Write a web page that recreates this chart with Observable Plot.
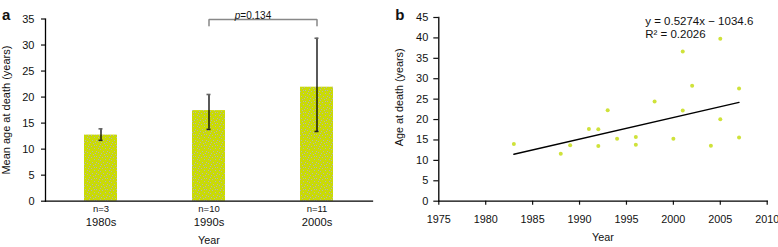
<!DOCTYPE html>
<html><head><meta charset="utf-8">
<script src="https://cdn.jsdelivr.net/npm/d3@7"></script>
<script src="https://cdn.jsdelivr.net/npm/@observablehq/plot@0.6"></script>
<style>
body{margin:0;background:#fff;}
#wrap{display:flex;width:778px;height:247px;}
#wrap svg{display:block;flex:none;}
</style></head><body><div id="wrap"></div>
<script>
// Panel a data
const decades = ["1980s", "1990s", "2000s"];
const nLabels = ["n=3", "n=10", "n=11"];
const meanAge = [12.7, 17.4, 21.9];
const errLow = [11.7, 13.8, 13.4];
const errHigh = [13.9, 20.5, 31.3];
const pLabel = "p=0.134";
const bracketTop = 34.9, bracketFoot = 33.7;
const yTicksA = [0, 5, 10, 15, 20, 25, 30, 35];

// Panel b data
const deathYear = [1983, 1988, 1989, 1991, 1992, 1992, 1993, 1994, 1996, 1996, 1998, 2000, 2001, 2001, 2002, 2004, 2005, 2005, 2007, 2007];
const deathAge  = [14.0, 11.6, 13.7, 17.7, 17.6, 13.5, 22.3, 15.3, 15.7, 13.8, 24.4, 15.3, 36.7, 22.2, 28.3, 13.6, 39.8, 20.1, 27.6, 15.6];
const fitYear = [1983, 2007];
const fitAge = [11.5, 24.2];
const eqLines = ["y = 0.5274x \u2212 1034.6", "R\u00b2 = 0.2026"];
const eqX = 1997, eqY = [44.0, 41.0];
const yTicksB = [0, 5, 10, 15, 20, 25, 30, 35, 40, 45];
const xTicksB = [1975, 1980, 1985, 1990, 1995, 2000, 2005, 2010];

const font = "'Liberation Sans', Arial, Helvetica, sans-serif";
const style = {fontFamily: font, fontSize: "11px", color: "#111", background: "#fff", overflow: "visible"};

const bars = decades.map((d, i) => ({decade: d, mean: meanAge[i], lo: errLow[i], hi: errHigh[i]}));
const bracket = [
  {x: decades[1], y: bracketFoot}, {x: decades[1], y: bracketTop},
  {x: decades[2], y: bracketTop}, {x: decades[2], y: bracketFoot}
];

const chartA = Plot.plot({
  width: 390, height: 247,
  marginLeft: 45, marginRight: 18, marginTop: 18.5, marginBottom: 46.3,
  style,
  x: {domain: decades, range: [46, 372], paddingInner: 0.69, paddingOuter: 0.345, axis: null},
  y: {domain: [0, 35], axis: null},
  marks: [
    Plot.barY(bars, {x: "decade", y: "mean", fill: "url(#speckle)"}),
    Plot.ruleX(bars, {x: "decade", y1: "lo", y2: "hi", stroke: "#000", strokeWidth: 1.3}),
    Plot.tickY(bars, {x: "decade", y: "hi", stroke: "#666", strokeWidth: 1.6, insetLeft: 14.5, insetRight: 14.5}),
    Plot.tickY(bars, {x: "decade", y: "lo", stroke: "#222", strokeWidth: 1.6, insetLeft: 14.5, insetRight: 14.5}),
    Plot.axisY({ticks: yTicksA, tickSize: 4, tickPadding: 7, strokeWidth: 1.2, label: null}),
    Plot.axisX({tickSize: 0, tickPadding: 4.5, fontSize: 9.5, tickFormat: d => nLabels[decades.indexOf(d)], label: null}),
    Plot.axisX({tickSize: 0, tickPadding: 17, fontSize: 11.2, label: null}),
    Plot.frame({anchor: "left", stroke: "#000", strokeWidth: 1.3}),
    Plot.frame({anchor: "bottom", stroke: "#000", strokeWidth: 1.3}),
    Plot.line(bracket, {x: "x", y: "y", stroke: "#888", strokeWidth: 1.5, strokeLinejoin: "miter", curve: "linear"}),
    Plot.text([pLabel], {x: () => decades[1], y: () => bracketTop, text: d => d, dx: 44, dy: -1, lineAnchor: "bottom", fontSize: 10}),
    Plot.text(["Mean age at death (years)"], {frameAnchor: "left", text: d => d, textAnchor: "middle", rotate: -90, dx: -39, fontSize: 11}),
    Plot.text(["Year"], {frameAnchor: "bottom", text: d => d, textAnchor: "middle", dy: 42.5, fontSize: 10.8}),
    Plot.text(["a"], {frameAnchor: "top-left", text: d => d, dx: -43.5, dy: -10, textAnchor: "start", fontSize: 15, fontWeight: "bold"})
  ]
});

const points = deathYear.map((yr, i) => ({year: yr, age: deathAge[i]}));
const fit = fitYear.map((yr, i) => ({year: yr, age: fitAge[i]}));
const eq = eqLines.map((t, i) => ({t, y: eqY[i]}));

const chartB = Plot.plot({
  width: 388, height: 247,
  marginLeft: 48.3, marginRight: 11.3, marginTop: 17, marginBottom: 46.3,
  style,
  x: {domain: [1975, 2010], axis: null},
  y: {domain: [0, 45], axis: null},
  marks: [
    Plot.axisY({ticks: yTicksB, tickSize: 5, tickPadding: 5.5, strokeWidth: 1.2, label: null}),
    Plot.axisX({ticks: xTicksB, tickSize: 4, tickPadding: 10.5, strokeWidth: 1.2, tickFormat: "d", fontSize: 10.8, label: null}),
    Plot.frame({anchor: "left", stroke: "#000", strokeWidth: 1.3}),
    Plot.frame({anchor: "bottom", stroke: "#000", strokeWidth: 1.3}),
    Plot.line(fit, {x: "year", y: "age", stroke: "#000", strokeWidth: 1.3}),
    Plot.dot(points, {x: "year", y: "age", r: 2, fill: "#cfe23a", stroke: "none"}),
    Plot.text(eq, {x: () => eqX, y: "y", text: "t", textAnchor: "start", fontSize: 11.5}),
    Plot.text(["Age at death (years)"], {frameAnchor: "left", text: d => d, textAnchor: "middle", rotate: -90, dx: -39, dy: -12, fontSize: 10.8}),
    Plot.text(["Year"], {frameAnchor: "bottom", text: d => d, textAnchor: "middle", dy: 39.5, fontSize: 10.8}),
    Plot.text(["b"], {frameAnchor: "top-left", text: d => d, dx: -43.5, dy: -8.5, textAnchor: "start", fontSize: 15, fontWeight: "bold"})
  ]
});

// speckled bar fill pattern
const ns = "http://www.w3.org/2000/svg";
const defs = document.createElementNS(ns, "defs");
const pat = document.createElementNS(ns, "pattern");
pat.setAttribute("id", "speckle");
pat.setAttribute("width", "11"); pat.setAttribute("height", "11");
pat.setAttribute("patternUnits", "userSpaceOnUse");
const base = document.createElementNS(ns, "rect");
base.setAttribute("width", "11"); base.setAttribute("height", "11"); base.setAttribute("fill", "#c9da06");
pat.appendChild(base);
[[1,1],[5,0],[8,2],[3,3],[10,5],[6,5],[1,6],[4,8],[8,8],[2,10],[7,10],[10,9],[0,3],[6,2]].forEach(([cx, cy]) => {
  const c = document.createElementNS(ns, "rect");
  c.setAttribute("x", cx); c.setAttribute("y", cy);
  c.setAttribute("width", 1); c.setAttribute("height", 1);
  c.setAttribute("fill", "#b4b4b4");
  pat.appendChild(c);
});
defs.appendChild(pat);
chartA.insertBefore(defs, chartA.firstChild);

// italic p in the p-value label
chartA.querySelectorAll("text").forEach(t => {
  if (t.textContent === pLabel) {
    const rest = pLabel.slice(1);
    t.textContent = "";
    const ti = document.createElementNS(ns, "tspan");
    ti.setAttribute("font-style", "italic");
    ti.textContent = pLabel[0];
    t.appendChild(ti);
    t.appendChild(document.createTextNode(rest));
  }
});

document.getElementById("wrap").append(chartA, chartB);
</script></body></html>
